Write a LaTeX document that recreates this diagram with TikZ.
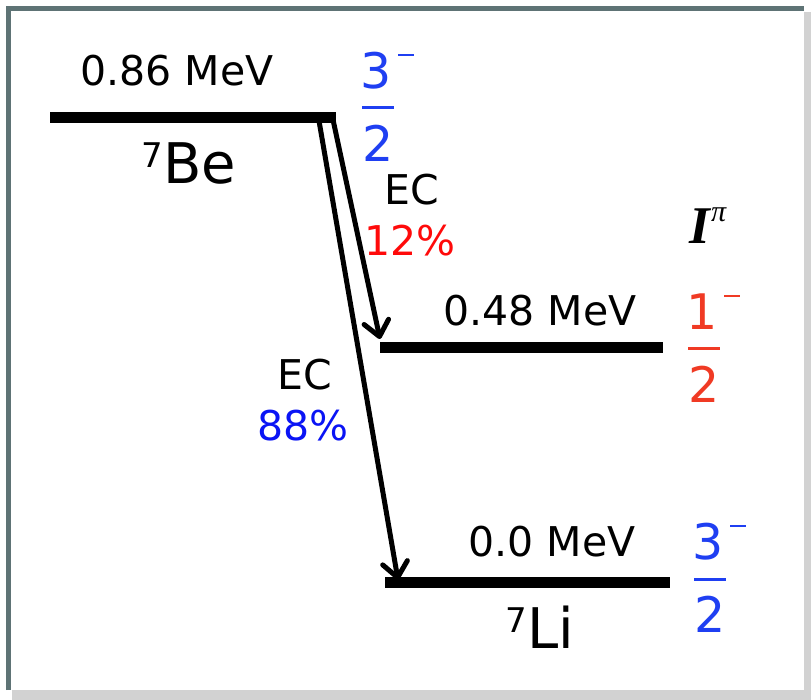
\documentclass[tikz,border=0pt]{standalone}
\usepackage{fontspec}
\setmainfont{DejaVu Sans}
\newfontfamily\timesfont{Liberation Serif}
\usetikzlibrary{arrows.meta, positioning}
\definecolor{cblue}{HTML}{1F3FF2}
\definecolor{cpure}{HTML}{0A14F5}
\definecolor{cred}{HTML}{FF0A0A}
\definecolor{corange}{HTML}{F03A24}
\definecolor{cframe}{HTML}{5E7375}
\definecolor{cshade}{HTML}{D2D2D2}
\tikzset{
  every picture/.style={x=1pt, y=-1pt},
  every node/.style={inner sep=0pt},
  level/.style={line width=11pt},
  decay/.style={-{Straight Barb[length=15pt, width=25pt, round]}, line width=5pt},
  energy/.style={font=\fontsize{41}{41}\selectfont},
  nuclide/.style={font=\fontsize{56}{56}\selectfont},
  branch/.style={text=#1, font=\fontsize{41}{41}\selectfont},
  branch/.default=black,
  spin/.style={text=#1, font=\fontsize{49}{49}\selectfont},
}
\newcommand{\massno}[1]{\raisebox{16pt}{\fontsize{34}{34}\selectfont #1}}

\begin{document}
\begin{tikzpicture}
  \useasboundingbox (0,0) rectangle (811,700);
  % frame
  \fill[cshade] (12,12) rectangle (811,700);
  \fill[white] (6,6) rectangle (804,690);
  \draw[cframe, line width=5pt] (8.5,690) -- (8.5,8.5) -- (804,8.5);

  % levels
  \coordinate (be-l) at (50,118);  \coordinate (be-r) at (336,118);
  \coordinate (ex-l) at (380,348); \coordinate (ex-r) at (663,348);
  \coordinate (gs-l) at (385,582); \coordinate (gs-r) at (670,582);
  \draw[level] (be-l) -- (be-r);
  \draw[level] (ex-l) -- (ex-r);
  \draw[level] (gs-l) -- (gs-r);

  \node[energy] (e-be) at (177,71) {0.86 MeV};
  \node[energy] (e-ex) at (540,311) {0.48 MeV};
  \node[energy] (e-gs) at (552,542) {0.0 MeV};
  \node[nuclide] (be7) at (189,163) {\massno{7}Be};
  \node[nuclide] (li7) at (540,627) {\massno{7}Li};

  % spins and parities
  \foreach \x/\y/\n/\c/\i in {378/108/3/cblue/be, 704/349/1/corange/ex, 710/579/3/cblue/gs} {
    \node[spin=\c] (num-\i) at (\x-2,\y-37) {\n};
    \node[spin=\c] (den-\i) at (\x,\y+35) {2};
    \draw[\c, line width=3pt] (\x-16,\y) -- (\x+16,\y);
    \draw[\c, line width=1.5pt] (\x+20,\y-53) -- (\x+36,\y-53);
  }
  \node (ipi) at (708,226) {\timesfont\fontsize{53}{53}\selectfont\textbf{\textit{I}}\raisebox{22pt}{\fontsize{30}{30}\selectfont\textit{π}}};

  % decays
  \coordinate (src-gs) at (318,115);
  \coordinate (src-ex) at (332,115);
  \coordinate (tip-gs) at (398,580);
  \coordinate (tip-ex) at (380,339);
  \draw[decay] (src-ex) -- (tip-ex);
  \draw[decay] (src-gs) -- (tip-gs);

  \node[branch] (ec-ex) at (412,190) {EC};
  \node[branch=cred] (br-ex) at (410,241) {12\%};
  \node[branch] (ec-gs) at (305,375) {EC};
  \node[branch=cpure] (br-gs) at (303,426) {88\%};
\end{tikzpicture}
\end{document}
